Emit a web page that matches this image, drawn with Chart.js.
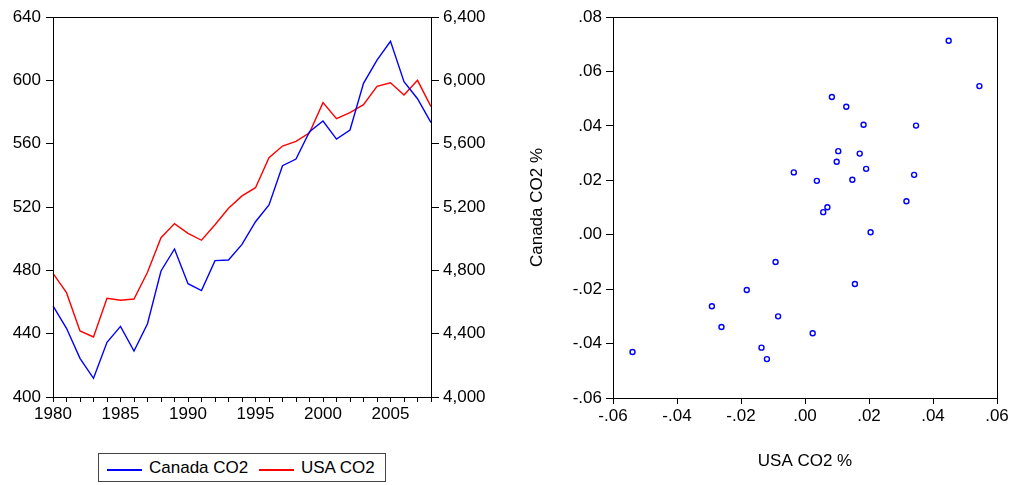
<!DOCTYPE html>
<html>
<head>
<meta charset="utf-8">
<script src="https://cdn.jsdelivr.net/npm/chart.js@4.4.1/dist/chart.umd.min.js"></script>
<style>
  html, body { margin: 0; padding: 0; background: #fff; width: 1014px; height: 485px; overflow: hidden; }
  #c1 { position: absolute; left: 0; top: 0; }
  #c2 { position: absolute; left: 500px; top: 0; }
  #legend { position: absolute; left: 98px; top: 453px; width: 286px; height: 27px; border: 1px solid #444;
            font-family: Arial, "Liberation Sans", sans-serif; font-size: 17px; color: #000; }
  .item { position: absolute; top: 0; height: 27px; line-height: 27px; white-space: nowrap; }
  .swatch { position: absolute; top: 15px; width: 35px; height: 2px; }
</style>
</head>
<body>
<canvas id="c1" width="500" height="440"></canvas>
<canvas id="c2" width="514" height="485"></canvas>
<div id="legend"></div>
<script>
// ---- data ----
const years = ['1980','1981','1982','1983','1984','1985','1986','1987','1988','1989',
               '1990','1991','1992','1993','1994','1995','1996','1997','1998','1999',
               '2000','2001','2002','2003','2004','2005','2006','2007','2008'];
const canadaCO2 = [457.5, 443.4, 424.4, 411.8, 434.5, 444.6, 429.0, 446.3, 479.6, 493.5,
                   471.6, 467.2, 486.1, 486.5, 496.4, 510.7, 521.3, 546.1, 550.3, 567.6,
                   574.3, 562.9, 568.6, 598.1, 612.8, 624.6, 599.2, 588.4, 573.3];
const usaCO2 = [4781, 4659, 4417, 4379, 4623, 4611, 4619, 4788, 5006, 5095,
                5034, 4990, 5088, 5192, 5270, 5322, 5511, 5585, 5615, 5669,
                5859, 5758, 5796, 5846, 5962, 5985, 5907, 6000, 5834];
const seriesNames = ['Canada CO2', 'USA CO2'];

const usaPct = [0.0449, 0.0545, 0.0084, 0.0129, 0.0183, 0.0347, 0.0104, 0.0171, 0.0099, 0.0191,
                -0.0035, 0.0341, 0.0037, 0.0148, 0.0317, 0.0070, 0.0057, 0.0205, 0.0156, 0.0024,
                -0.0092, -0.0182, -0.0291, -0.0084, -0.0261, -0.0136, -0.0119, -0.0539];
const canadaPct = [0.0713, 0.0546, 0.0506, 0.0470, 0.0404, 0.0401, 0.0307, 0.0298, 0.0268, 0.0242,
                   0.0229, 0.0220, 0.0198, 0.0202, 0.0123, 0.0101, 0.0083, 0.0009, -0.0181, -0.0362,
                   -0.0100, -0.0203, -0.0263, -0.0300, -0.0339, -0.0415, -0.0457, -0.0431];
const scatterXTitle = 'USA CO2 %';
const scatterYTitle = 'Canada CO2 %';

// ---- setup ----
Chart.defaults.font.family = 'Arial, "Liberation Sans", sans-serif';
Chart.defaults.font.size = 17;
Chart.defaults.color = '#000';
Chart.defaults.animation = false;

const framePlugin = {
  id: 'frame',
  afterDraw(chart) {
    const a = chart.chartArea, ctx = chart.ctx;
    ctx.save();
    ctx.strokeStyle = '#000';
    ctx.lineWidth = 1;
    ctx.strokeRect(Math.round(a.left) + 0.5, Math.round(a.top) + 0.5,
                   Math.round(a.right - a.left), Math.round(a.bottom - a.top));
    ctx.restore();
  }
};

const tickGrid = (len) => ({ display: true, drawOnChartArea: false, drawTicks: true, tickLength: len, color: '#000', lineWidth: 1 });
const pctFmt = (v) => {
  const s = Math.abs(v).toFixed(2).replace(/^0/, '');
  return (v < -1e-9 ? '-' : '') + s;
};

// ---- left: line chart ----
new Chart(document.getElementById('c1'), {
  type: 'line',
  data: {
    labels: years,
    datasets: [
      { label: seriesNames[0], data: canadaCO2, borderColor: '#0000ff', borderWidth: 1.4, pointRadius: 0, yAxisID: 'y', tension: 0 },
      { label: seriesNames[1], data: usaCO2, borderColor: '#ff0000', borderWidth: 1.4, pointRadius: 0, yAxisID: 'y2', tension: 0 }
    ]
  },
  options: {
    responsive: false,
    layout: { padding: { top: 17, left: 0, right: 0, bottom: 0 } },
    plugins: { legend: { display: false }, tooltip: { enabled: false } },
    scales: {
      x: {
        type: 'category', offset: false,
        grid: tickGrid(5), border: { display: true, color: '#000' },
        ticks: { autoSkip: false, maxRotation: 0, padding: 2,
                 callback: function (v, i) { const y = years[i]; return (+y % 5 === 0) ? y : ''; } },
        afterFit: (s) => { s.height = 43; }
      },
      y: {
        position: 'left', min: 400, max: 640,
        grid: tickGrid(7), border: { display: true, color: '#000' },
        ticks: { stepSize: 40, padding: 5 },
        afterFit: (s) => { s.width = 53; }
      },
      y2: {
        position: 'right', min: 4000, max: 6400,
        grid: tickGrid(8), border: { display: true, color: '#000' },
        ticks: { stepSize: 400, padding: 4, callback: (v) => v.toLocaleString('en-US') },
        afterFit: (s) => { s.width = 69; }
      }
    }
  },
  plugins: [framePlugin]
});

// ---- legend ----
(function () {
  const lg = document.getElementById('legend');
  const items = [
    { name: seriesNames[0], color: '#0000ff', sx: 8, tx: 50 },
    { name: seriesNames[1], color: '#ff0000', sx: 160, tx: 202 }
  ];
  items.forEach(it => {
    const sw = document.createElement('div');
    sw.className = 'swatch'; sw.style.left = it.sx + 'px'; sw.style.background = it.color;
    lg.appendChild(sw);
    const t = document.createElement('div');
    t.className = 'item'; t.style.left = it.tx + 'px'; t.textContent = it.name;
    lg.appendChild(t);
  });
})();

// ---- right: scatter ----
new Chart(document.getElementById('c2'), {
  type: 'scatter',
  data: {
    datasets: [{
      data: usaPct.map((x, i) => ({ x: x, y: canadaPct[i] })),
      borderColor: '#0000ff', backgroundColor: 'rgba(255,255,255,0)',
      pointRadius: 2.5, borderWidth: 1.4, pointStyle: 'circle'
    }]
  },
  options: {
    responsive: false,
    layout: { padding: { top: 17, left: 0, right: 17, bottom: 0 } },
    plugins: { legend: { display: false }, tooltip: { enabled: false } },
    scales: {
      x: {
        type: 'linear', min: -0.06, max: 0.06,
        grid: tickGrid(6), border: { display: true, color: '#000' },
        ticks: { stepSize: 0.02, padding: 2, maxRotation: 0, callback: pctFmt },
        title: { display: true, text: scatterXTitle, font: { size: 17 }, padding: { top: 0, bottom: 13 } },
        afterFit: (s) => { s.height = 87; }
      },
      y: {
        type: 'linear', min: -0.06, max: 0.08,
        grid: tickGrid(7), border: { display: true, color: '#000' },
        ticks: { stepSize: 0.02, padding: 4, callback: pctFmt },
        title: { display: true, text: scatterYTitle, font: { size: 17 }, padding: { top: 27, bottom: 0 } },
        afterFit: (s) => { s.width = 113; }
      }
    }
  },
  plugins: [framePlugin]
});
</script>
</body>
</html>
